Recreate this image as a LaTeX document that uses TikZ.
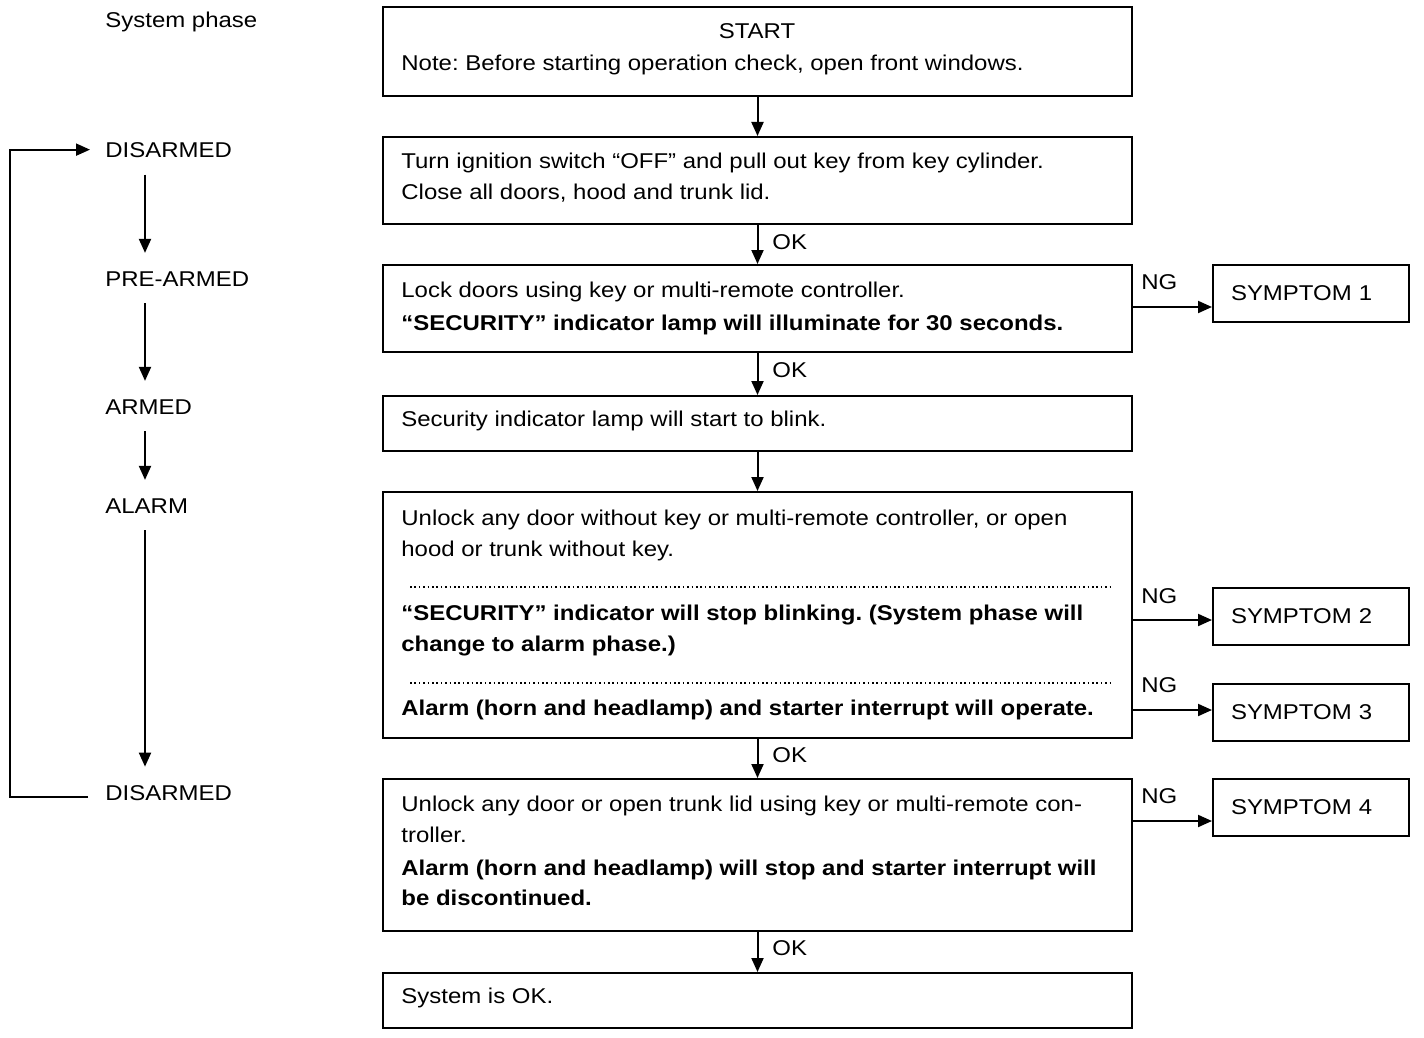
\documentclass[tikz,border=0pt]{standalone}
\usepackage{fontspec}
\setmainfont{Liberation Sans}[FakeStretch=1.12]
\usetikzlibrary{arrows.meta}
\frenchspacing
\begin{document}
\begin{tikzpicture}[x=0.5pt,y=-0.5pt,
  every node/.style={font=\fontsize{10.7pt}{15pt}\selectfont},
  box/.style={draw,line width=1pt,minimum width=374.5pt,inner sep=0pt},
  symp/.style={draw,line width=1pt,minimum height=28.5pt,text width=80pt,inner xsep=9pt,inner ysep=0pt,align=left},
  txt/.style={anchor=base west,inner sep=0pt},
  btxt/.style={txt,font=\fontsize{10.7pt}{15pt}\selectfont\bfseries},
  phase/.style={anchor=base west,inner sep=0pt},
  arr/.style={line width=1pt,-{Triangle[length=7pt,width=6pt]}},
  dots/.style={line width=0.7pt,dash pattern=on 0.8pt off 1.4pt}]
\useasboundingbox (0,0) rectangle (1424,1038);
% main boxes
\node[box,minimum height=44.5pt] (b1) at (757.5,51.5) {};
\node[box,minimum height=43.5pt] (b2) at (757.5,180.5) {};
\node[box,minimum height=43.5pt] (b3) at (757.5,308.5) {};
\node[box,minimum height=27.5pt] (b4) at (757.5,423.5) {};
\node[box,minimum height=123pt] (b5) at (757.5,615) {};
\node[box,minimum height=76pt] (b6) at (757.5,855) {};
\node[box,minimum height=27.5pt] (b7) at (757.5,1000.5) {};
% symptom boxes
\node[symp] (s1) at (1311,293.5) {SYMPTOM 1};
\node[symp] (s2) at (1311,616.5) {SYMPTOM 2};
\node[symp] (s3) at (1311,712.5) {SYMPTOM 3};
\node[symp] (s4) at (1311,807.5) {SYMPTOM 4};
% texts
\node[anchor=base,inner sep=0pt] (t1a) at (757,39) {START};
\node[txt] (t1b) at (401,71) {Note: Before starting operation check, open front windows.};
\node[txt] (t2a) at (401,169) {Turn ignition switch “OFF” and pull out key from key cylinder.};
\node[txt] (t2b) at (401,199) {Close all doors, hood and trunk lid.};
\node[txt] (t3a) at (401,297) {Lock doors using key or multi-remote controller.};
\node[btxt] (t3b) at (401,330) {“SECURITY” indicator lamp will illuminate for 30 seconds.};
\node[txt] (t4a) at (401,426) {Security indicator lamp will start to blink.};
\node[txt] (t5a) at (401,525) {Unlock any door without key or multi-remote controller, or open};
\node[txt] (t5b) at (401,556) {hood or trunk without key.};
\node[btxt] (t5c) at (401,620) {“SECURITY” indicator will stop blinking. (System phase will};
\node[btxt] (t5d) at (401,651) {change to alarm phase.)};
\node[btxt] (t5e) at (401,715) {Alarm (horn and headlamp) and starter interrupt will operate.};
\node[txt] (t6a) at (401,811) {Unlock any door or open trunk lid using key or multi-remote con-};
\node[txt] (t6b) at (401,842) {troller.};
\node[btxt] (t6c) at (401,875) {Alarm (horn and headlamp) will stop and starter interrupt will};
\node[btxt] (t6d) at (401,905) {be discontinued.};
\node[txt] (t7a) at (401,1003) {System is OK.};
\draw[dots] (410,587) -- (1113,587);
\draw[dots] (410,683) -- (1113,683);
% vertical connectors
\draw[arr] (b1) -- (b2);
\draw[arr] (b2) -- (b3);
\draw[arr] (b3) -- (b4);
\draw[arr] (b4) -- (b5);
\draw[arr] (b5) -- (b6);
\draw[arr] (b6) -- (b7);
\node[txt] (ok1) at (772,249) {OK};
\node[txt] (ok2) at (772,377) {OK};
\node[txt] (ok3) at (772,762) {OK};
\node[txt] (ok4) at (772,955) {OK};
% NG connectors
\coordinate (n1) at (1170,307);
\coordinate (n2) at (1170,620);
\coordinate (n3) at (1170,710);
\coordinate (n4) at (1170,821);
\draw[arr] (b3.east |- n1) -- (s1.west |- n1);
\draw[arr] (b5.east |- n2) -- (s2.west |- n2);
\draw[arr] (b5.east |- n3) -- (s3.west |- n3);
\draw[arr] (b6.east |- n4) -- (s4.west |- n4);
\node[txt] (ng1) at (1141,289) {NG};
\node[txt] (ng2) at (1141,603) {NG};
\node[txt] (ng3) at (1141,692) {NG};
\node[txt] (ng4) at (1141,803) {NG};
% system phase column
\node[phase] (sp) at (105,28) {System phase};
\node[phase] (p1) at (105,157) {DISARMED};
\node[phase] (p2) at (105,286) {PRE-ARMED};
\node[phase] (p3) at (105,414) {ARMED};
\node[phase] (p4) at (105,513) {ALARM};
\node[phase] (p5) at (105,800) {DISARMED};
\coordinate (ax) at (145,0);
\draw[arr] ([yshift=-8.5pt]p1.south -| ax) -- ([yshift=9pt]p2.north -| ax);
\draw[arr] ([yshift=-8.5pt]p2.south -| ax) -- ([yshift=9pt]p3.north -| ax);
\draw[arr] ([yshift=-8.5pt]p3.south -| ax) -- ([yshift=9pt]p4.north -| ax);
\draw[arr] ([yshift=-8.5pt]p4.south -| ax) -- ([yshift=9pt]p5.north -| ax);
\coordinate (lx) at (10,470);
\draw[arr] ([xshift=-8.5pt,yshift=-2pt]p5.west) -| (lx) |- ([xshift=-7.5pt]p1.west);
\end{tikzpicture}
\end{document}
